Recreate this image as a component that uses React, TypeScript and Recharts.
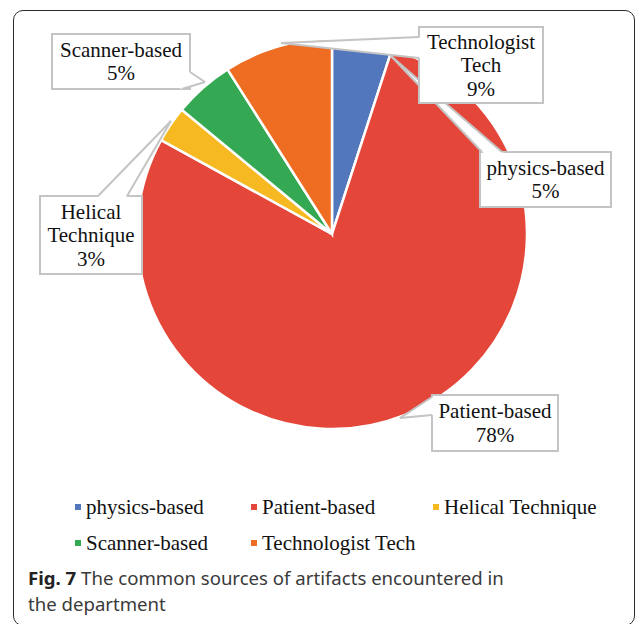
import React from 'react';
import { Cell, Legend, Pie, PieChart } from 'recharts';

const categories = ['physics-based', 'Patient-based', 'Helical Technique', 'Scanner-based', 'Technologist Tech'];
const shares = [5, 78, 3, 5, 9];
const labelLines = [['physics-based'], ['Patient-based'], ['Helical', 'Technique'], ['Scanner-based'], ['Technologist', 'Tech']];
const colors = ['#5277BD', '#E4473A', '#F6B922', '#34A853', '#EE6D22'];

// callout boxes, offsets from the pie centre: box, pointer tip, two base points
const callouts = [
  { box: [148, -82, 131, 55], tip: [59, -178], b1: [150, -82], b2: [170, -82] },
  { box: [100, 161, 126, 56], tip: [68, 184], b1: [100, 163], b2: [100, 181] },
  { box: [-292, -38, 102, 78], tip: [-161, -113], b1: [-234, -38], b2: [-205, -38] },
  { box: [-280, -200, 138, 55], tip: [-127, -152], b1: [-142, -162], b2: [-150, -145] },
  { box: [87, -207, 124, 76], tip: [-51, -191], b1: [87, -197], b2: [87, -176] },
];

const serif = '"Liberation Serif", "Times New Roman", serif';
const edge = '#C4C4C4';

function renderCallout(props: any) {
  const { cx, cy, index, value } = props;
  const c = callouts[index];
  const [bx, by, bw, bh] = c.box;
  const x = cx + bx;
  const y = cy + by;
  const tip = [cx + c.tip[0], cy + c.tip[1]];
  const p1 = [cx + c.b1[0], cy + c.b1[1]];
  const p2 = [cx + c.b2[0], cy + c.b2[1]];
  const mx = x + bw / 2;
  const my = y + bh / 2;
  const inward = (p: number[]) => {
    const dx = mx - p[0];
    const dy = my - p[1];
    const d = Math.hypot(dx, dy) || 1;
    return [p[0] + (dx / d) * 3, p[1] + (dy / d) * 3];
  };
  const i1 = inward(p1);
  const i2 = inward(p2);
  const lines = [...labelLines[index], `${value}%`];
  const lh = 23.5;
  const top = my - ((lines.length - 1) * lh) / 2;
  return (
    <g key={`callout-${index}`}>
      <rect x={x} y={y} width={bw} height={bh} fill="#fff" stroke={edge} strokeWidth={2} />
      <polygon
        points={[tip, p1, i1, i2, p2].map((p) => p.join(',')).join(' ')}
        fill="#fff"
        stroke="none"
      />
      <line x1={tip[0]} y1={tip[1]} x2={p1[0]} y2={p1[1]} stroke={edge} strokeWidth={2} />
      <line x1={tip[0]} y1={tip[1]} x2={p2[0]} y2={p2[1]} stroke={edge} strokeWidth={2} />
      {lines.map((t, k) => (
        <text
          key={k}
          x={mx}
          y={top + k * lh}
          textAnchor="middle"
          dominantBaseline="central"
          fontFamily={serif}
          fontSize={21}
          fill="#111"
        >
          {t}
        </text>
      ))}
    </g>
  );
}

function renderLegend() {
  return (
    <div
      style={{
        display: 'grid',
        gridTemplateColumns: '176px 182px 200px',
        rowGap: 12,
        fontFamily: serif,
        fontSize: 21,
        lineHeight: '24px',
        color: '#111',
      }}
    >
      {categories.map((name, i) => (
        <div key={name} style={{ display: 'flex', alignItems: 'center', whiteSpace: 'nowrap' }}>
          <span style={{ width: 6, height: 6, background: colors[i], marginRight: 5, display: 'inline-block' }} />
          {name}
        </div>
      ))}
    </div>
  );
}

export default function App() {
  const data = categories.map((name, i) => ({ name, value: shares[i] }));
  return (
    <div style={{ position: 'absolute', left: 0, top: 0, width: 636, height: 624, background: '#fff', overflow: 'hidden' }}>
      <div
        style={{
          position: 'absolute',
          left: 13,
          top: 10,
          width: 622,
          height: 616,
          border: '1.5px solid #2b2b2b',
          borderRadius: 10,
          boxSizing: 'border-box',
        }}
      />
      <div style={{ position: 'absolute', left: 0, top: 0 }}>
        <PieChart width={636} height={624} margin={{ top: 0, right: 0, bottom: 0, left: 0 }}>
          <Pie
            data={data}
            dataKey="value"
            nameKey="name"
            cx={332}
            cy={234}
            outerRadius={195}
            startAngle={90}
            endAngle={-270}
            stroke="#fff"
            strokeWidth={2.5}
            labelLine={false}
            label={renderCallout}
            isAnimationActive={false}
          >
            {data.map((d, i) => (
              <Cell key={d.name} fill={colors[i]} />
            ))}
          </Pie>
          <Legend content={renderLegend} wrapperStyle={{ position: 'absolute', left: 75, top: 495, width: 560, bottom: 'auto' }} />
        </PieChart>
      </div>
      <div
        style={{
          position: 'absolute',
          left: 28,
          top: 565,
          width: 540,
          fontFamily: '"Noto Sans", "Open Sans", sans-serif',
          fontSize: 18.6,
          lineHeight: '26px',
          color: '#3a3a3a',
        }}
      >
        <span style={{ fontWeight: 700, color: '#222' }}>Fig. 7</span> The common sources of artifacts encountered in
        <br />
        the department
      </div>
    </div>
  );
}
